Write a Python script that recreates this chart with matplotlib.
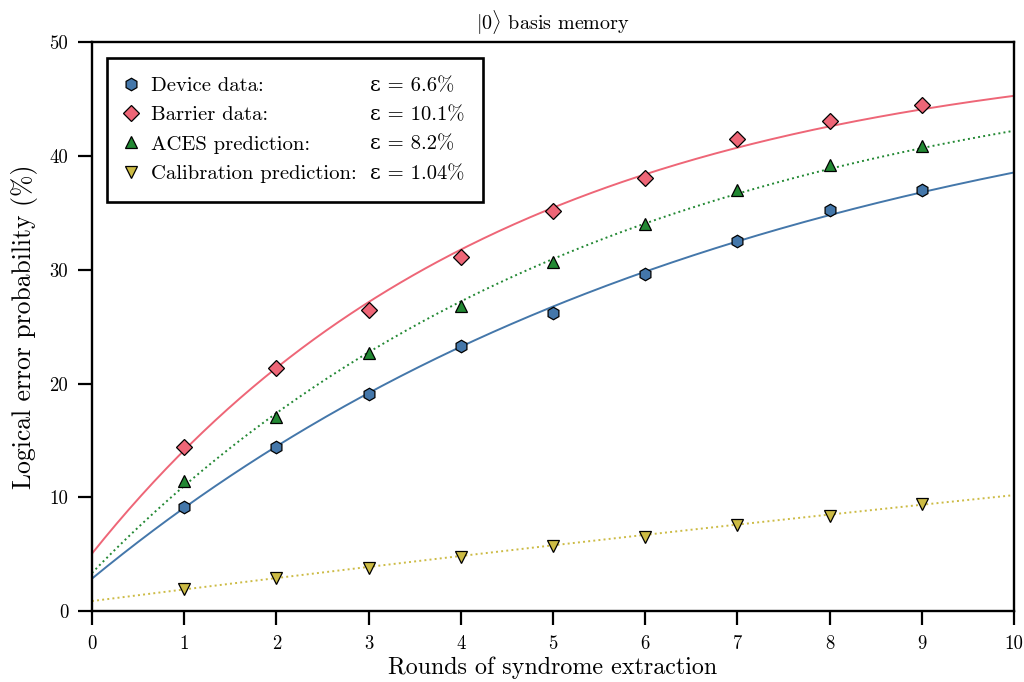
import numpy as np
import matplotlib
matplotlib.use("Agg")
import matplotlib.pyplot as plt
from matplotlib.lines import Line2D
from matplotlib.font_manager import FontProperties

# computer-modern look without a LaTeX install
plt.rcParams['font.family'] = 'serif'
plt.rcParams['font.serif'] = ['cmr10']
plt.rcParams['mathtext.fontset'] = 'cm'

# --- data (percent) ---
rounds = [1, 2, 3, 4, 5, 6, 7, 8, 9]
device = [9.15, 14.4, 19.1, 23.3, 26.2, 29.6, 32.5, 35.3, 37.0]
barrier = [14.4, 21.4, 26.45, 31.1, 35.2, 38.05, 41.5, 43.05, 44.45]
aces = [11.4, 17.1, 22.7, 26.8, 30.7, 34.0, 37.05, 39.25, 40.85]
calib = [1.95, 2.95, 3.8, 4.75, 5.75, 6.55, 7.6, 8.4, 9.4]

names = ['Device data:', 'Barrier data:', 'ACES prediction:', 'Calibration prediction:']
eps_labels = ['6.6', '10.1', '8.2', '1.04']
# per-round error and the round-0 offset of each model curve (percent)
eps = [6.6, 10.1, 8.2, 1.04]
p0 = [2.85, 5.05, 3.35, 0.88]

colors = ['#4477AA', '#EE6677', '#228833', '#CCBB44']
markers = ['h', 'D', '^', 'v']
msizes = [9, 8, 9, 9]
styles = ['-', '-', ':', ':']


def memory_curve(n, e, start):
    # logical error after n rounds of a depolarising-like flip channel
    e, start = e / 100.0, start / 100.0
    return 50.0 * (1 - (1 - 2 * start) * (1 - 2 * e) ** n)


fig = plt.figure(figsize=(10.24, 6.82), dpi=100)
ax = fig.add_axes([0.0898, 0.104, 0.9004, 0.834])

n_fine = np.linspace(0, 10, 300)
handles = []
for i, ys in enumerate([device, barrier, aces, calib]):
    ax.plot(n_fine, memory_curve(n_fine, eps[i], p0[i]), color=colors[i],
            ls=styles[i], lw=1.4, zorder=2)
    ax.plot(rounds, ys, ls='none', marker=markers[i], ms=msizes[i],
            mfc=colors[i], mec='black', mew=0.9, zorder=3)
    handles.append(Line2D([], [], ls='none', marker=markers[i], ms=msizes[i],
                          mfc=colors[i], mec='black', mew=0.9))

ax.set_xlim(0, 10)
ax.set_ylim(0, 50)
ax.set_xticks(range(0, 11))
ax.set_yticks(range(0, 51, 10))
ax.tick_params(direction='out', length=10, width=1.6, labelsize=13.5, pad=7)
for sp in ax.spines.values():
    sp.set_linewidth(1.7)

ax.set_xlabel('Rounds of syndrome extraction', fontsize=17.3, labelpad=3)
ax.set_ylabel('Logical error probability (%)', fontsize=18.5, labelpad=8)
ax.set_title(r'$|0\rangle$ basis memory', fontsize=14.5, pad=9)

# second legend column holds the epsilon values, pulled in next to the names
leg_font = FontProperties(family=['cmr10', 'DejaVu Serif'], size=14.9)
blank = [Line2D([], [], ls='none') for _ in names]
leg = ax.legend(handles + blank,
                names + ['ε = %s%%' % s for s in eps_labels],
                ncol=2, loc='upper left', bbox_to_anchor=(0.0163, 0.973),
                prop=leg_font, frameon=True, fancybox=False, framealpha=1,
                edgecolor='black', handlelength=0.5, handletextpad=0.73,
                columnspacing=-0.6, borderpad=0.9, labelspacing=0.53,
                borderaxespad=0)
leg.get_frame().set_linewidth(1.9)

fig.savefig('out.png', dpi=100)
